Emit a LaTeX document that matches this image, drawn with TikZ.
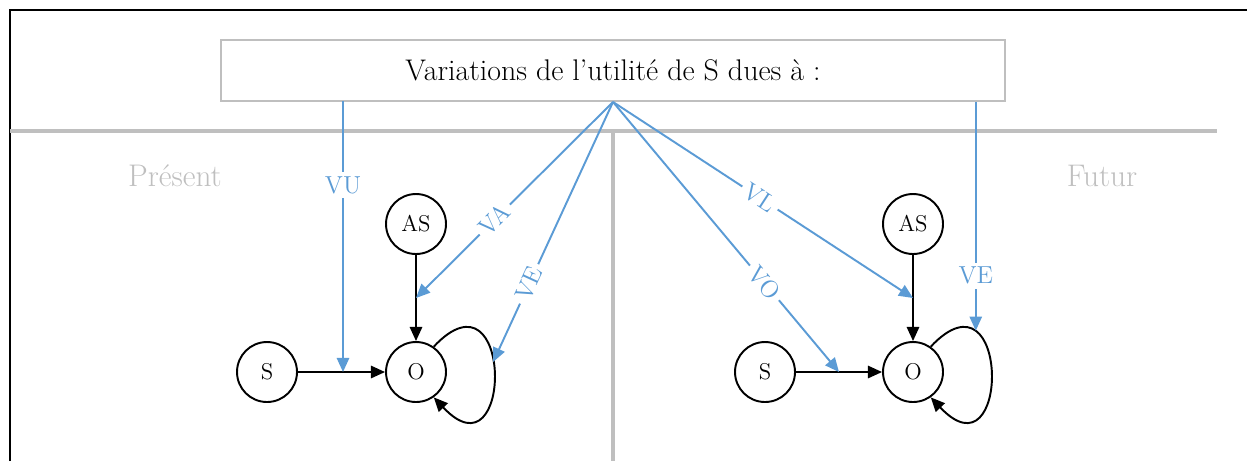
\documentclass[tikz,border=0pt]{standalone}
\usetikzlibrary{arrows.meta}

\definecolor{bleu}{RGB}{91,155,213}
\definecolor{grisclair}{RGB}{191,191,191}

\begin{document}
\begin{tikzpicture}[x=0.02cm,y=-0.02cm,
    etat/.style={draw,circle,line width=1.1pt,minimum size=1.2cm,inner sep=0pt,font=\fontsize{13}{15}\selectfont},
    fleche/.style={line width=1.1pt,-{Triangle[length=8pt,width=7pt]}},
    varfleche/.style={bleu,line width=1.1pt,-{Triangle[length=8pt,width=7pt]}},
    etiq/.style={fill=white,text=bleu,inner sep=2.5pt,font=\fontsize{14}{16}\selectfont},
    periode/.style={text=grisclair,font=\fontsize{17.8}{20}\selectfont}]

    % Fix the page size
    \useasboundingbox (0,0) rectangle (1247,461);

    % Outer frame (top and left only)
    \draw[line width=0.9pt] (10,461) -- (10,10) -- (1247,10);

    % Separation between present and future
    \draw[grisclair,line width=2.3pt] (10,131) -- (1217,131);
    \draw[grisclair,line width=2.3pt] (613,131) -- (613,461);

    % Period labels
    \node[periode] (present) at (175,176) {Présent};
    \node[periode] (futur) at (1102,176) {Futur};

    % Title box
    \node[draw=grisclair,line width=1.1pt,minimum width=15.7cm,minimum height=1.22cm,
          font=\fontsize{17}{20}\selectfont] (titre) at (613,70.5) {Variations de l'utilité de S dues à :};

    % Present: states
    \node[etat] (SP) at (267,372) {S};
    \node[etat] (OP) at (416,372) {O};
    \node[etat] (ASP) at (416,224) {AS};

    % Future: states
    \node[etat] (SF) at (765,372) {S};
    \node[etat] (OF) at (913,372) {O};
    \node[etat] (ASF) at (913,224) {AS};

    % Present: black arrows, with points where the blue arrows land
    \draw[fleche] (SP) -- (OP);
    \draw[fleche] (ASP) -- coordinate[pos=0.5] (mAOP) (OP);
    \draw[fleche] (OP.55) .. controls +(80,-85) and +(80,85) .. coordinate[pos=0.45] (boucleP) (OP.-55);

    % Future: black arrows
    \draw[fleche] (SF) -- coordinate[pos=0.5] (mSOF) (OF);
    \draw[fleche] (ASF) -- coordinate[pos=0.5] (mAOF) (OF);
    \draw[fleche] (OF.55) .. controls +(80,-85) and +(80,85) .. coordinate[pos=0.25] (boucleF) (OF.-55);

    % Start points of the vertical blue arrows
    \coordinate (dU) at (343,101);
    \coordinate (dE) at (boucleF |- titre.south);

    % Blue arrows from the title box
    \draw[varfleche] (dU) -- node[etiq,pos=0.31] {VU} (dU |- SP);
    \draw[varfleche] (titre.south) -- node[etiq,sloped,pos=0.6] {VA} (mAOP);
    \draw[varfleche] (titre.south) -- node[etiq,sloped,pos=0.7] {VE} (boucleP);
    \draw[varfleche] (titre.south) -- node[etiq,sloped,pos=0.49] {VL} (mAOF);
    \draw[varfleche] (titre.south) -- node[etiq,sloped,pos=0.67] {VO} (mSOF);
    \draw[varfleche] (dE) -- node[etiq,pos=0.76] {VE} (boucleF);

\end{tikzpicture}
\end{document}
